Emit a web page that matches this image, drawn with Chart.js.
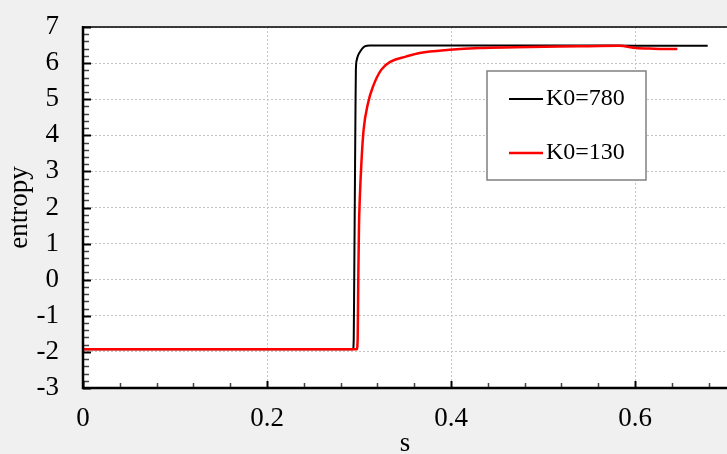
<!DOCTYPE html>
<html>
<head>
<meta charset="utf-8">
<script src="https://cdn.jsdelivr.net/npm/chart.js@4.4.0/dist/chart.umd.min.js"></script>
<style>
  html, body { margin: 0; padding: 0; background: #f0f0f0; }
  #wrap { width: 727px; height: 454px; }
</style>
</head>
<body>
<div id="wrap"><canvas id="entropyChart" width="727" height="454"></canvas></div>
<script>
// values
const sK780 = [0, 0.1, 0.2, 0.2935, 0.2943, 0.2948, 0.2955, 0.2962, 0.2966, 0.2975, 0.2988, 0.3008, 0.3035, 0.3062, 0.3116, 0.35, 0.4, 0.45, 0.5, 0.55, 0.6, 0.65, 0.679];
const entropyK780 = [-1.93, -1.93, -1.93, -1.93, -1.6, 0, 2.4, 4.8, 5.8, 6.08, 6.2, 6.3, 6.4, 6.46, 6.49, 6.49, 6.49, 6.49, 6.49, 6.49, 6.48, 6.48, 6.48];

const sK130 = [0, 0.1, 0.2, 0.2975, 0.2986, 0.2992, 0.3, 0.3008, 0.3026, 0.305, 0.3098, 0.3152, 0.3243, 0.335, 0.351, 0.366, 0.3985, 0.431, 0.47, 0.518, 0.55, 0.583, 0.601, 0.62, 0.646];
const entropyK130 = [-1.93, -1.93, -1.93, -1.93, -1.6, 0, 1.5, 2.2, 3.23, 4.15, 4.89, 5.35, 5.82, 6.05, 6.18, 6.28, 6.37, 6.42, 6.44, 6.46, 6.47, 6.48, 6.42, 6.40, 6.39];

const seriesLabels = ['K0=780', 'K0=130'];
const seriesColors = ['#000000', '#ff0000'];

const xTickLabels = ['0', '0.2', '0.4', '0.6'];
const yTickLabels = ['-3', '-2', '-1', '0', '1', '2', '3', '4', '5', '6', '7'];

const serif = '"Liberation Serif", "Times New Roman", serif';

function toPoints(xs, ys) {
    return xs.map((x, i) => ({ x: x, y: ys[i] }));
}

// white plot area, frame, inward ticks and the boxed legend
const framePlugin = {
    id: 'frame',
    beforeDraw(chart) {
        const { ctx, chartArea: a } = chart;
        ctx.save();
        ctx.fillStyle = '#ffffff';
        ctx.fillRect(a.left, a.top, a.right - a.left + 2, a.bottom - a.top);
        ctx.restore();
    },
    afterDraw(chart) {
        const { ctx, chartArea: a } = chart;
        const xs = chart.scales.x, ys = chart.scales.y;
        ctx.save();

        // inward tick marks
        ys.ticks.forEach((t, i) => {
            const y = Math.round(ys.getPixelForValue(t.value)) + 0.5;
            const major = i % 5 === 0;
            ctx.strokeStyle = major ? '#000' : '#444';
            ctx.lineWidth = major ? 2 : 1.5;
            ctx.beginPath();
            ctx.moveTo(a.left, y);
            ctx.lineTo(a.left + (major ? 8 : 6), y);
            ctx.stroke();
        });
        xs.ticks.forEach((t, i) => {
            const x = Math.round(xs.getPixelForValue(t.value)) + 0.5;
            const major = i % 5 === 0;
            ctx.strokeStyle = major ? '#000' : '#444';
            ctx.lineWidth = major ? 2 : 1.5;
            ctx.beginPath();
            ctx.moveTo(x, a.bottom);
            ctx.lineTo(x, a.bottom - (major ? 7 : 5));
            ctx.stroke();
        });

        // axes
        ctx.strokeStyle = '#000';
        ctx.lineWidth = 1.5;
        ctx.beginPath();
        ctx.moveTo(a.left, a.top);
        ctx.lineTo(a.right + 2, a.top);
        ctx.stroke();
        ctx.lineWidth = 2.5;
        ctx.beginPath();
        ctx.moveTo(a.left, a.top - 1);
        ctx.lineTo(a.left, a.bottom);
        ctx.lineTo(a.right + 2, a.bottom);
        ctx.stroke();

        // legend box
        const bx = 487, by = 71, bw = 159, bh = 109;
        ctx.fillStyle = '#ffffff';
        ctx.fillRect(bx, by, bw, bh);
        ctx.strokeStyle = '#808080';
        ctx.lineWidth = 1.5;
        ctx.strokeRect(bx, by, bw, bh);
        ctx.font = '24px ' + serif;
        ctx.textBaseline = 'middle';
        ctx.textAlign = 'left';
        chart.data.datasets.forEach((ds, k) => {
            const ly = by + 28 + k * 54;
            ctx.strokeStyle = ds.borderColor;
            ctx.lineWidth = ds.borderWidth;
            ctx.beginPath();
            ctx.moveTo(bx + 22, ly);
            ctx.lineTo(bx + 56, ly);
            ctx.stroke();
            ctx.fillStyle = '#000';
            ctx.fillText(ds.label, bx + 59, ly);
        });
        ctx.restore();
    }
};

const ctx = document.getElementById('entropyChart').getContext('2d');
new Chart(ctx, {
    type: 'scatter',
    data: {
        datasets: [
            {
                label: seriesLabels[0],
                data: toPoints(sK780, entropyK780),
                borderColor: seriesColors[0],
                borderWidth: 2,
                showLine: true,
                pointRadius: 0,
                cubicInterpolationMode: 'monotone',
                order: 1
            },
            {
                label: seriesLabels[1],
                data: toPoints(sK130, entropyK130),
                borderColor: seriesColors[1],
                borderWidth: 2.5,
                showLine: true,
                pointRadius: 0,
                cubicInterpolationMode: 'monotone',
                order: 0
            }
        ]
    },
    options: {
        responsive: false,
        devicePixelRatio: 1,
        animation: false,
        layout: { padding: { top: 27, right: 0, left: 0, bottom: 0 } },
        plugins: {
            legend: { display: false },
            tooltip: { enabled: false }
        },
        scales: {
            x: {
                type: 'linear',
                min: 0,
                max: 0.7,
                afterBuildTicks(scale) {
                    const ticks = [];
                    for (let i = 0; i <= 17; i++) ticks.push({ value: i * 4 / 100 });
                    scale.ticks = ticks;
                },
                afterFit(scale) {
                    scale.height = 66;
                    scale.paddingLeft = 0;
                    scale.paddingRight = 0;
                },
                ticks: {
                    autoSkip: false,
                    maxRotation: 0,
                    padding: 15,
                    color: '#000',
                    font: { family: serif, size: 27 },
                    callback: (v, i) => i % 5 === 0 ? xTickLabels[i / 5] : ''
                },
                grid: {
                    drawTicks: false,
                    color: (c) => c.index % 5 === 0 ? '#c4c4c4' : 'transparent',
                    lineWidth: 1
                },
                border: { display: false, dash: [2, 2] },
                title: {
                    display: true,
                    text: 's',
                    color: '#000',
                    font: { family: serif, size: 27, lineHeight: 1 },
                    padding: { top: 0, bottom: -3 }
                }
            },
            y: {
                type: 'linear',
                min: -3,
                max: 7,
                afterBuildTicks(scale) {
                    const ticks = [];
                    for (let i = 0; i <= 50; i++) ticks.push({ value: -3 + i / 5 });
                    scale.ticks = ticks;
                },
                afterFit(scale) {
                    scale.width = 83;
                    scale.paddingTop = 0;
                    scale.paddingBottom = 0;
                },
                ticks: {
                    autoSkip: false,
                    padding: 24,
                    color: '#000',
                    font: { family: serif, size: 27 },
                    callback: (v, i) => i % 5 === 0 ? yTickLabels[i / 5] : ''
                },
                grid: {
                    drawTicks: false,
                    color: (c) => c.index % 5 === 0 ? '#c4c4c4' : 'transparent',
                    lineWidth: 1
                },
                border: { display: false, dash: [2, 2] },
                title: {
                    display: true,
                    text: 'entropy',
                    color: '#000',
                    font: { family: serif, size: 27 },
                    padding: { top: 4, bottom: 0 }
                }
            }
        }
    },
    plugins: [framePlugin]
});
</script>
</body>
</html>
